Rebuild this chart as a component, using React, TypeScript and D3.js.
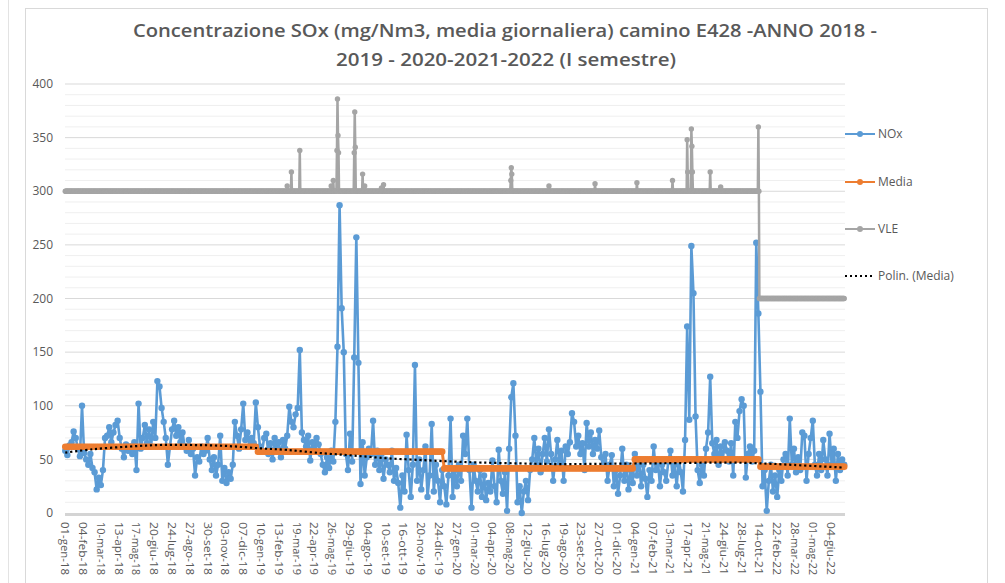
import React from 'react';
import * as d3 from 'd3';

const TITLE_LINES = [
  'Concentrazione SOx (mg/Nm3, media giornaliera) camino E428 -ANNO 2018 -',
  '2019 - 2020-2021-2022 (I semestre)',
];

const DAY_COUNT = 1490;
const SAMPLE_DAYS = 4;
const X_TICK_EVERY = 34;

const xTickLabels = [
  '01-gen-18', '04-feb-18', '10-mar-18', '13-apr-18', '17-mag-18', '20-giu-18', '24-lug-18', '27-ago-18',
  '30-set-18', '03-nov-18', '07-dic-18', '10-gen-19', '13-feb-19', '19-mar-19', '22-apr-19', '26-mag-19',
  '29-giu-19', '04-ago-19', '10-set-19', '16-ott-19', '20-nov-19', '24-dic-19', '27-gen-20', '01-mar-20',
  '04-apr-20', '08-mag-20', '12-giu-20', '16-lug-20', '19-ago-20', '23-set-20', '27-ott-20', '01-dic-20',
  '04-gen-21', '07-feb-21', '13-mar-21', '17-apr-21', '21-mag-21', '24-giu-21', '28-lug-21', '14-ott-21',
  '22-feb-22', '28-mar-22', '01-mag-22', '04-giu-22',
];

const yTicks = [0, 50, 100, 150, 200, 250, 300, 350, 400];

// NOx daily values, one reading every SAMPLE_DAYS categories
const noxValues = [
  58, 54, 63, 66, 76, 70, 60, 53, 100, 56,
  50, 45, 55, 42, 38, 22, 33, 26, 40, 70,
  72, 80, 66, 75, 82, 86, 70, 60, 52, 64,
  58, 62, 55, 66, 40, 102, 60, 70, 82, 65,
  78, 62, 85, 70, 123, 118, 98, 85, 70, 45,
  62, 78, 86, 72, 80, 66, 75, 62, 58, 68,
  55, 60, 35, 52, 48, 62, 55, 58, 70, 50,
  40, 52, 35, 45, 72, 30, 42, 28, 38, 32,
  45, 85, 72, 60, 78, 102, 68, 75, 62, 70,
  65, 103, 80, 62, 58, 70, 74, 55, 65, 50,
  70, 58, 66, 52, 68, 60, 72, 99, 85, 80,
  92, 98, 152, 75, 68, 62, 72, 49, 66, 60,
  70, 64, 55, 45, 38, 52, 42, 58, 48, 85,
  155, 287, 191, 150, 55, 40, 74, 48, 145, 257,
  140, 27, 66, 35, 52, 60, 55, 86, 45, 58,
  40, 55, 32, 50, 45, 38, 58, 30, 42, 28,
  5, 35, 20, 73, 40, 15, 45, 138, 30, 50,
  22, 40, 62, 15, 35, 83, 20, 45, 30, 10,
  40, 25, 8, 35, 88, 15, 40, 25, 45, 30,
  72, 55, 88, 40, 5, 45, 30, 20, 40, 15,
  35, 12, 28, 20, 49, 25, 10, 59, 30, 18,
  38, 2, 60, 108, 121, 72, 10, 25, 0, 20,
  30, 12, 40, 50, 70, 45, 60, 38, 55, 70,
  48, 78, 55, 30, 50, 68, 45, 58, 30, 62,
  55, 66, 93, 85, 62, 72, 55, 65, 40, 84,
  62, 75, 55, 68, 60, 77, 52, 42, 55, 30,
  45, 54, 25, 40, 18, 35, 60, 30, 45, 22,
  40, 28, 55, 35, 50, 25, 45, 32, 15, 40,
  30, 62, 40, 50, 25, 45, 38, 30, 48, 58,
  35, 45, 25, 50, 38, 20, 68, 174, 87, 249,
  205, 90, 40, 28, 45, 35, 60, 75, 127, 65,
  55, 68, 45, 62, 50, 66, 58, 48, 65, 35,
  85, 70, 95, 106, 100, 33, 55, 62, 48, 58,
  252, 186, 113, 25, 40, 2, 30, 45, 20, 35,
  15, 40, 30, 50, 55, 35, 88, 45, 60, 38,
  52, 40, 75, 72, 30, 55, 70, 86, 45, 35,
  55, 40, 68, 50, 35, 74, 45, 60, 30, 55,
  40, 50, 45,
];

// Yearly mean (Media)
const mediaYears = [
  { year: '2018', firstDay: 0, lastDay: 365, value: 61.8 },
  { year: '2019', firstDay: 366, lastDay: 721, value: 57.2 },
  { year: '2020', firstDay: 722, lastDay: 1084, value: 41.6 },
  { year: '2021', firstDay: 1085, lastDay: 1325, value: 50 },
  { year: '2022', firstDay: 1326, lastDay: 1489, value: 43.2 },
];

// Emission limit (VLE): daily level, with the days where it reads higher
const vleLevels = [
  { firstDay: 0, lastDay: 1325, value: 300 },
  { firstDay: 1326, lastDay: 1489, value: 200 },
];
const vleExceedDays = [424, 432, 448, 508, 512, 519, 520, 521, 522, 552, 553, 554, 568, 572, 604, 608,
  851, 852, 853, 924, 1012, 1092, 1160, 1188, 1189, 1196, 1197, 1198, 1232, 1252, 1324];
const vleExceedValues = [305, 318, 338, 305, 310, 338, 386, 352, 336, 336, 374, 341, 316, 305, 303, 306,
  310, 322, 316, 305, 307, 308, 310, 348, 318, 358, 342, 318, 318, 304, 360];

// Polynomial trendline of Media
const trendDays = [0, 52, 120, 180, 244, 308, 372, 424, 492, 552, 616, 680, 744, 796, 864, 924, 988,
  1052, 1116, 1168, 1236, 1296, 1344, 1392, 1488];
const trendValues = [56.3, 59.4, 61.9, 63.4, 63.4, 62.5, 60.3, 58.8, 55.7, 53.5, 51, 49.4, 47.9, 47,
  46.3, 45.7, 45.7, 46, 46.3, 46.5, 47, 46.8, 46, 44.8, 42.3];

const legendItems = ['NOx', 'Media', 'VLE', 'Polin. (Media)'];

const BLUE = '#5B9BD5';
const ORANGE = '#ED7D31';
const GRAY = '#A5A5A5';
const TEXT = '#595959';

type Pt = { day: number; v: number };

export default function App() {
  const W = 1005;
  const H = 583;
  const x = d3.scaleLinear().domain([-0.5, DAY_COUNT - 0.5]).range([65, 845]);
  const y = d3.scaleLinear().domain([0, 400]).range([513, 84]);

  const nox: Pt[] = noxValues.map((v, i) => ({ day: i * SAMPLE_DAYS, v }));
  const media: Pt[] = nox.map((d) => {
    const m = mediaYears.find((yy) => d.day >= yy.firstDay && d.day <= yy.lastDay)!;
    return { day: d.day, v: m.value };
  });
  const vle: Pt[] = d3.range(0, nox[nox.length - 1].day + 1).map((day) => {
    const idx = vleExceedDays.indexOf(day);
    if (idx >= 0) return { day, v: vleExceedValues[idx] };
    const lv = vleLevels.find((l) => day >= l.firstDay && day <= l.lastDay)!;
    return { day, v: lv.value };
  });
  const trend: Pt[] = trendDays.map((d, i) => ({ day: d, v: trendValues[i] }));

  const line = d3.line<Pt>().x((d) => x(d.day)).y((d) => y(d.v));
  const trendLine = d3
    .line<Pt>()
    .x((d) => x(d.day))
    .y((d) => y(d.v))
    .curve(d3.curveCatmullRom);

  const minor: number[] = d3.range(10, 400, 10).filter((v) => v % 50 !== 0);
  const xTicks = xTickLabels.map((label, k) => ({ label, day: k * X_TICK_EVERY }));

  const legendY = [134, 182, 229, 276];
  const legendColors = [BLUE, ORANGE, GRAY];

  return (
    <svg
      width={W}
      height={H}
      viewBox={`0 0 ${W} ${H}`}
      style={{ position: 'absolute', left: 0, top: 0, display: 'block', background: '#fff' }}
    >
      <rect x={0} y={0} width={W} height={H} fill="#fff" />
      <line x1={8.5} x2={8.5} y1={0} y2={H} stroke="#e3e3e3" strokeWidth={1} />
      <rect x={25.5} y={8.5} width={962} height={600} fill="#fff" stroke="#d9d9d9" strokeWidth={1} />

      {/* title */}
      <g fontFamily="'Open Sans', 'Liberation Sans', sans-serif" fontWeight={600} fontSize={18} fill={TEXT} textAnchor="middle">
        <text x={505} y={37} textLength={744} lengthAdjust="spacingAndGlyphs">{TITLE_LINES[0]}</text>
        <text x={506} y={66} textLength={340} lengthAdjust="spacingAndGlyphs">{TITLE_LINES[1]}</text>
      </g>

      {/* gridlines */}
      <g>
        {minor.map((v) => (
          <line key={'m' + v} x1={65} x2={845} y1={y(v)} y2={y(v)} stroke="#efefef" strokeWidth={1} />
        ))}
        {yTicks.filter((v) => v > 0).map((v) => (
          <line key={'g' + v} x1={65} x2={845} y1={y(v)} y2={y(v)} stroke="#d9d9d9" strokeWidth={1} />
        ))}
        <line x1={65} x2={845} y1={y(0) + 1.5} y2={y(0) + 1.5} stroke="#d4d4d4" strokeWidth={3} />
      </g>

      {/* y labels */}
      <g fontFamily="'Open Sans', 'Liberation Sans', sans-serif" fontSize={12} fill={TEXT} textAnchor="end">
        {yTicks.map((v) => (
          <text key={v} x={53} y={y(v)} dy="0.35em">{v}</text>
        ))}
      </g>

      {/* x labels */}
      <g fontFamily="'Open Sans', 'Liberation Sans', sans-serif" fontSize={10.5} fill={TEXT}>
        {xTicks.map((t) => (
          <text
            key={t.label}
            transform={`translate(${x(t.day)},522) rotate(90)`}
            dominantBaseline="central"
            textAnchor="start"
            textLength={53}
            lengthAdjust="spacingAndGlyphs"
          >
            {t.label}
          </text>
        ))}
      </g>

      {/* NOx */}
      <path d={line(nox) || ''} fill="none" stroke={BLUE} strokeWidth={2.6} strokeLinejoin="round" />
      <g fill={BLUE}>
        {nox.map((d) => (
          <circle key={'n' + d.day} cx={x(d.day)} cy={y(d.v)} r={3.2} />
        ))}
      </g>

      {/* Media */}
      <path d={line(media) || ''} fill="none" stroke={ORANGE} strokeWidth={3} />
      <g fill={ORANGE}>
        {media.map((d) => (
          <circle key={'o' + d.day} cx={x(d.day)} cy={y(d.v)} r={3.3} />
        ))}
      </g>

      {/* VLE */}
      <path d={line(vle) || ''} fill="none" stroke={GRAY} strokeWidth={2.5} strokeLinejoin="round" />
      <g fill={GRAY}>
        {vle.map((d) => (
          <circle key={'v' + d.day} cx={x(d.day)} cy={y(d.v)} r={2.7} />
        ))}
      </g>

      {/* trendline */}
      <path d={trendLine(trend) || ''} fill="none" stroke="#000" strokeWidth={2.2} strokeDasharray="2.2 2.8" />

      {/* legend */}
      <g fontFamily="'Open Sans', 'Liberation Sans', sans-serif" fontSize={12} fill={TEXT}>
        {legendItems.map((name, i) => (
          <g key={name}>
            {i < 3 ? (
              <>
                <line x1={845} x2={875} y1={legendY[i]} y2={legendY[i]} stroke={legendColors[i]} strokeWidth={2} />
                <circle cx={860} cy={legendY[i]} r={3} fill={legendColors[i]} />
              </>
            ) : (
              <line x1={845} x2={875} y1={legendY[i]} y2={legendY[i]} stroke="#000" strokeWidth={2} strokeDasharray="2 3" />
            )}
            <text x={878} y={legendY[i]} dy="0.35em">{name}</text>
          </g>
        ))}
      </g>
    </svg>
  );
}
